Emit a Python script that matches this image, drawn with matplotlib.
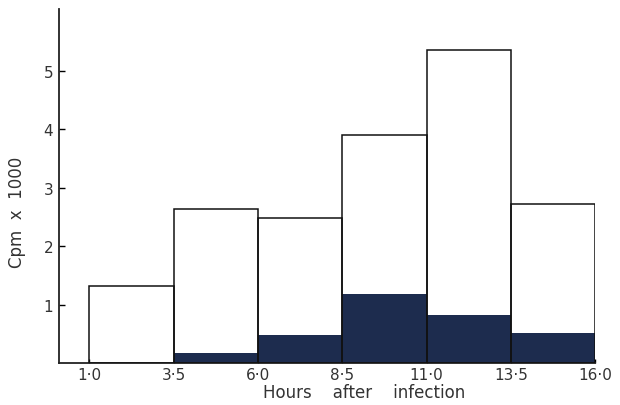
import matplotlib
matplotlib.use("Agg")
import matplotlib.pyplot as plt

# bin edges (hours after infection) and counts (cpm x 1000)
bin_left = [1.0, 3.5, 6.0, 8.5, 11.0, 13.5]
bin_width = 2.5
total_cpm = [1.32, 2.64, 2.48, 3.90, 5.36, 2.72]
dark_cpm = [0.0, 0.17, 0.48, 1.18, 0.82, 0.51]
x_ticks = [1.0, 3.5, 6.0, 8.5, 11.0, 13.5, 16.0]
x_labels = ["1·0", "3·5", "6·0", "8·5", "11·0", "13·5", "16·0"]
y_ticks = [1, 2, 3, 4, 5]

fig = plt.figure(figsize=(6.2, 4.06), dpi=100)
ax = fig.add_axes([0.095, 0.103, 0.865, 0.872])

ax.bar(bin_left, dark_cpm, width=bin_width, align="edge",
       color="#1d2c4e", linewidth=0, zorder=2)
ax.bar(bin_left, total_cpm, width=bin_width, align="edge",
       fill=False, edgecolor="#111111", linewidth=1.1, zorder=3)

ax.set_xlim(0.1, 16.0)
ax.set_ylim(0, 6.06)
for side in ("top", "right"):
    ax.spines[side].set_visible(False)
for side in ("left", "bottom"):
    ax.spines[side].set_linewidth(1.3)
    ax.spines[side].set_color("#222222")

ax.set_xticks(x_ticks)
ax.set_xticklabels(x_labels, fontsize=11, color="#333333")
ax.set_yticks(y_ticks)
ax.set_yticklabels([str(v) for v in y_ticks], fontsize=11, color="#333333")
ax.tick_params(axis="y", direction="in", length=4, width=1, pad=4)
ax.tick_params(axis="x", direction="in", length=3, width=1, pad=3)

ax.set_xlabel("Hours    after    infection", fontsize=12, color="#333333",
              labelpad=2)
ax.xaxis.set_label_coords(0.57, -0.055)
ax.set_ylabel("Cpm  x  1000", fontsize=12, color="#333333")
ax.yaxis.set_label_coords(-0.062, 0.43)

fig.savefig("out.png", dpi=100)
